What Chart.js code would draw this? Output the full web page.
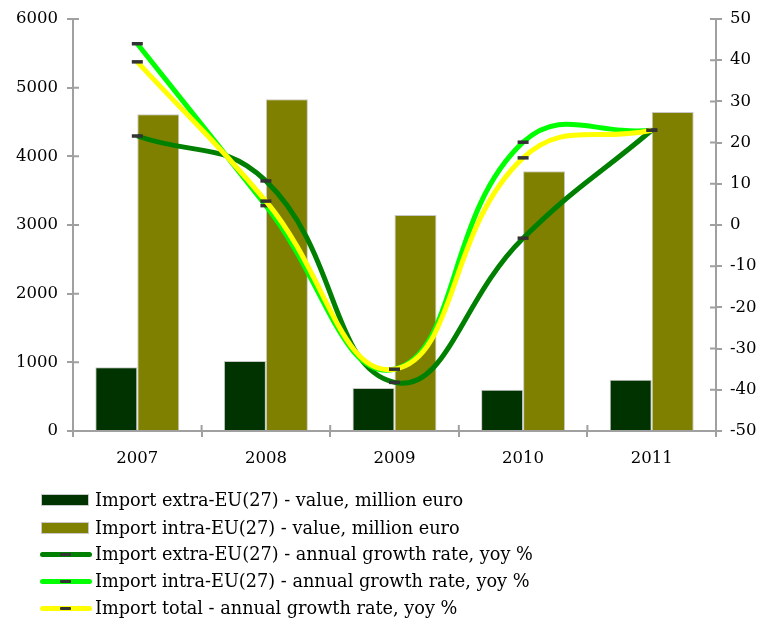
<!DOCTYPE html>
<html>
<head>
<meta charset="utf-8">
<script src="https://cdn.jsdelivr.net/npm/chart.js@4.4.1/dist/chart.umd.min.js"></script>
<style>
  html, body { margin: 0; padding: 0; background: #fff; }
  #wrap { position: relative; width: 758px; height: 620px; overflow: hidden; }
  #c { position: absolute; left: 0; top: 0; }
  #legend { position: absolute; left: 0; top: 0; width: 758px; height: 620px; pointer-events: none;
            font-family: "DejaVu Serif", serif; font-size: 17.7px; color: #000; }
  .row { position: absolute; left: 0; height: 24px; }
  .sym { position: absolute; }
  .txt { position: absolute; left: 95px; white-space: nowrap; line-height: 24px; top: 0; }
</style>
</head>
<body>
<div id="wrap">
  <canvas id="c" width="758" height="475"></canvas>
  <div id="legend"></div>
</div>
<script>
const categories = ['2007', '2008', '2009', '2010', '2011'];
const importExtraValue = [928, 1019, 626, 601, 747];
const importIntraValue = [4612, 4830, 3146, 3782, 4646];
const extraGrowth = [21.6, 10.7, -38.2, -3.2, 23.0];
const intraGrowth = [44.0, 4.7, -35.0, 20.1, 23.0];
const totalGrowth = [39.6, 5.8, -35.0, 16.3, 23.0];
const leftTicks = [0, 1000, 2000, 3000, 4000, 5000, 6000];
const rightTicks = [-50, -40, -30, -20, -10, 0, 10, 20, 30, 40, 50];

const seriesNames = [
  'Import extra-EU(27) - value, million euro',
  'Import intra-EU(27) - value, million euro',
  'Import extra-EU(27) - annual growth rate, yoy %',
  'Import intra-EU(27) - annual growth rate, yoy %',
  'Import total - annual growth rate, yoy %'
];

const AXIS = '#a0a0a0';
const FONT = { family: 'DejaVu Serif', size: 16.5 };
const markerColor = '#333333';

const innerTicks = {
  id: 'innerTicks',
  beforeDatasetsDraw(chart) {
    const ctx = chart.ctx;
    ctx.save();
    ctx.strokeStyle = AXIS;
    ctx.lineWidth = 2;
    const y = chart.scales.y, y1 = chart.scales.y1, x = chart.scales.x;
    ctx.beginPath();
    y.ticks.forEach((t, i) => { const p = y.getPixelForTick(i); ctx.moveTo(y.right, p); ctx.lineTo(y.right + 6, p); });
    y1.ticks.forEach((t, i) => { const p = y1.getPixelForTick(i); ctx.moveTo(y1.left, p); ctx.lineTo(y1.left - 6, p); });
    const n = categories.length;
    for (let i = 0; i <= n; i++) {
      const px = x.left + i * (x.width / n);
      ctx.moveTo(px, x.top); ctx.lineTo(px, x.top - 6);
    }
    ctx.stroke();
    ctx.restore();
  }
};

const lineDs = (label, data, color, order) => ({
  type: 'line', label, data, yAxisID: 'y1', order,
  borderColor: color, backgroundColor: color, borderWidth: 5,
  tension: 0.45, fill: false,
  pointStyle: 'line', pointRadius: 5.5, pointBorderColor: markerColor,
  pointBorderWidth: 3.5, pointBackgroundColor: markerColor, pointHoverRadius: 5.5
});

const plainNum = v => String(v);

const chart = new Chart(document.getElementById('c'), {
  type: 'bar',
  data: {
    labels: categories,
    datasets: [
      { label: seriesNames[0], data: importExtraValue, backgroundColor: '#003300', borderColor: '#c8c8c8', borderWidth: 1, yAxisID: 'y', order: 9, categoryPercentage: 0.653, barPercentage: 1.0 },
      { label: seriesNames[1], data: importIntraValue, backgroundColor: '#808000', borderColor: '#c8c8c8', borderWidth: 1, yAxisID: 'y', order: 10, categoryPercentage: 0.653, barPercentage: 1.0 },
      lineDs(seriesNames[2], extraGrowth, '#008000', 3),
      lineDs(seriesNames[3], intraGrowth, '#00ff00', 2),
      lineDs(seriesNames[4], totalGrowth, '#ffff00', 1)
    ]
  },
  options: {
    responsive: false,
    animation: false,
    layout: { padding: { top: 19, left: 0, right: 0, bottom: 0 } },
    plugins: { legend: { display: false }, tooltip: { enabled: false } },
    scales: {
      x: {
        offset: true,
        grid: { display: true, drawOnChartArea: false, offset: true, tickLength: 6, color: AXIS, lineWidth: 2 },
        border: { color: AXIS, width: 2 },
        ticks: { font: FONT, color: '#000', padding: 12 },
        afterFit(s) { s.height = 44; }
      },
      y: {
        position: 'left', min: 0, max: 6000,
        afterBuildTicks(s) { s.ticks = leftTicks.map(v => ({ value: v })); },
        grid: { drawOnChartArea: false, tickLength: 6, color: AXIS, lineWidth: 2 },
        border: { color: AXIS, width: 2 },
        ticks: { font: FONT, color: '#000', padding: 9, callback: plainNum },
        afterFit(s) { s.width = 73; }
      },
      y1: {
        position: 'right', min: -50, max: 50,
        afterBuildTicks(s) { s.ticks = rightTicks.map(v => ({ value: v })); },
        grid: { drawOnChartArea: false, tickLength: 6, color: AXIS, lineWidth: 2 },
        border: { color: AXIS, width: 2 },
        ticks: { font: FONT, color: '#000', padding: 8, callback: plainNum },
        afterFit(s) { s.width = 42; }
      }
    }
  },
  plugins: [innerTicks]
});

// HTML legend built from the chart's datasets
const legend = document.getElementById('legend');
const rowCenters = [500, 528, 554, 581, 608];
chart.data.datasets.forEach((ds, i) => {
  const row = document.createElement('div');
  row.className = 'row';
  row.style.top = (rowCenters[i] - 12) + 'px';
  row.style.width = '758px';
  let sym;
  if (ds.type === 'line') {
    sym = document.createElement('div');
    sym.className = 'sym';
    sym.style.cssText = `left:40px;top:9.5px;width:52px;height:5px;border-radius:3px;background:${ds.borderColor};`;
    const m = document.createElement('div');
    m.style.cssText = `position:absolute;left:20px;top:1px;width:11px;height:3.5px;background:${markerColor};border-radius:1px;`;
    sym.appendChild(m);
  } else {
    sym = document.createElement('div');
    sym.className = 'sym';
    sym.style.cssText = `left:41px;top:6px;width:46px;height:10px;background:${ds.backgroundColor};border:1px solid #c8c8c8;`;
  }
  row.appendChild(sym);
  const t = document.createElement('div');
  t.className = 'txt';
  t.textContent = ds.label;
  row.appendChild(t);
  legend.appendChild(row);
});
</script>
</body>
</html>
